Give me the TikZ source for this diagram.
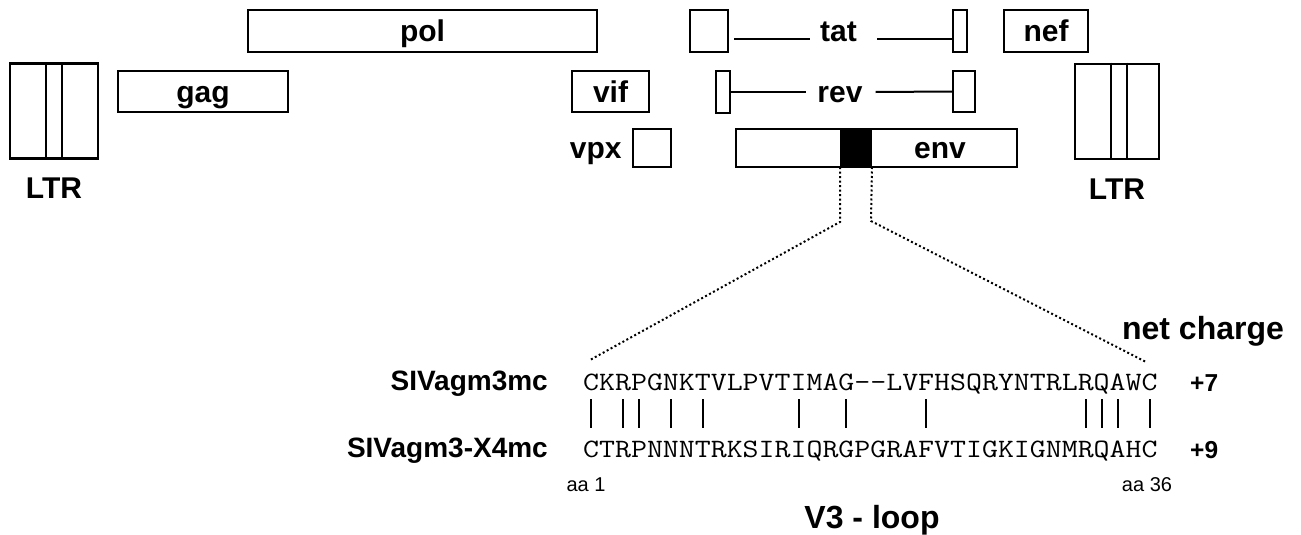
\documentclass[tikz,border=0pt]{standalone}
\usepackage{fontspec}
\setmainfont{Liberation Sans}
\newfontfamily\seqfont{Latin Modern Mono}[FakeStretch=1.169]
\usetikzlibrary{positioning, calc}

\tikzset{
	gene/.style n args={2}{draw, line width=2.5pt, minimum width=#1, minimum height=#2, inner sep=0pt,
		font=\bfseries\fontsize{30}{30}\selectfont, text height=21.6pt, text depth=0pt},
	lbl/.style={inner sep=0pt, font=\bfseries\fontsize{30}{30}\selectfont, text height=21.6pt, text depth=0pt},
	title/.style={inner sep=0pt, font=\bfseries\fontsize{32}{32}\selectfont},
	strain/.style={inner sep=0pt, font=\bfseries\fontsize{28}{28}\selectfont},
	charge/.style={inner sep=0pt, font=\bfseries\fontsize{24.5}{24.5}\selectfont},
	seq/.style={inner sep=0pt, font=\seqfont\fontsize{26.5}{26.5}\selectfont},
	aa/.style={inner sep=0pt, font=\fontsize{20}{20}\selectfont},
	splice/.style={line width=2pt},
	dots/.style={line width=2pt, dash pattern=on 2pt off 2.5pt},
	bar/.style={line width=2pt}
}

\begin{document}
\begin{tikzpicture}[x=1pt, y=-1pt]

		\useasboundingbox (0,0) rectangle (1301,535);

		\node[gene={88}{95}] (ltrL) at (54,111) {};
		\node[gene={84}{95}] (ltrR) at (1117,111.5) {};
		\node[lbl, below=17pt of ltrL] (ltrLlbl) {LTR};
		\node[lbl, below=17pt of ltrR] (ltrRlbl) {LTR};
		\draw[line width=2.5pt] ([xshift=37pt]ltrL.north west) -- ([xshift=37pt]ltrL.south west)
		([xshift=53pt]ltrL.north west) -- ([xshift=53pt]ltrL.south west);
		\draw[line width=2.5pt] ([xshift=37pt]ltrR.north west) -- ([xshift=37pt]ltrR.south west)
		([xshift=53pt]ltrR.north west) -- ([xshift=53pt]ltrR.south west);

		\node[gene={170}{41}] (gag) at (203,91.5) {gag};
		\node[gene={349}{42}] (pol) at (422.5,31) {pol};
		\node[gene={77}{41}] (vif) at (610.5,91.5) {vif};
		\node[gene={38}{38}] (vpx) at (652,148) {};
		\node[lbl, left=10pt of vpx] (vpxlbl) {vpx};

		\node[gene={38}{42}] (tat1) at (709,31) {};
		\node[gene={14}{42}] (tat2) at (960,31) {};
		\node[lbl] (tatlbl) at (838.5,31) {tat};
		\node[gene={14}{42}] (rev1) at (723,92) {};
		\node[gene={22}{41}] (rev2) at (964,91.5) {};
		\node[lbl] (revlbl) at (840,92) {rev};
		\node[gene={84}{42}] (nef) at (1046,31) {nef};

		\node[gene={281}{38}] (env) at (876.5,148) {};
		\node[fill=black, inner sep=0pt, outer sep=0pt, minimum width=32, minimum height=38] (v3) at (856,148) {};
		\node[lbl] (envlbl) at (940,148) {env};

		\draw[splice] ([xshift=5pt, yshift=-8pt]tat1.east) -- ([xshift=-10pt, yshift=-8pt]tatlbl.west);
		\draw[splice] ([xshift=20pt, yshift=-8pt]tatlbl.east) -- ([yshift=-8pt]tat2.west);
		\draw[splice] (rev1.east) -- ([xshift=-11pt]revlbl.west);
		\draw[splice] ([xshift=13pt]revlbl.east) -- (rev2.west);

		\node[seq, anchor=base west] (seqA) at (583,390) {CKRPGNKTVLPVTIMAG--LVFHSQRYNTRLRQAWC};
		\node[seq, anchor=base west] (seqB) at (583,457) {CTRPNNNTRKSIRIQRGPGRAFVTIGKIGNMRQAHC};
		\node[strain, base left=35pt of seqA] (nameA) {SIVagm3mc};
		\node[strain, base left=35pt of seqB] (nameB) {SIVagm3-X4mc};
		\node[charge, anchor=base west] (chA) at (1190,391) {+7};
		\node[charge, anchor=base west] (chB) at (1190,458) {+9};
		\node[title, anchor=base] (net) at (1203,339) {net charge};
		\node[aa, anchor=base] (aa1) at (586,491) {aa 1};
		\node[aa, anchor=base] (aa36) at (1147,491) {aa 36};
		\node[title, anchor=base] (loop) at (872,528) {V3 - loop};

		\foreach \i in {1,3,4,6,8,14,17,22,32,33,34,36}
			\draw[bar] ($(seqA.base west)!{(\i-0.5)/36}!(seqA.base east)$) ++(0,9) -- ++(0,29);

		\coordinate (kneeL) at (840,222);
		\coordinate (kneeR) at (871,221);
		\coordinate (endL) at (590,360);
		\coordinate (endR) at (1146,362);
		\draw[dots] (v3.south west) -- (kneeL) -- (endL);
		\draw[dots] (v3.south east) -- (kneeR) -- (endR);

		\end{tikzpicture}
\end{document}
